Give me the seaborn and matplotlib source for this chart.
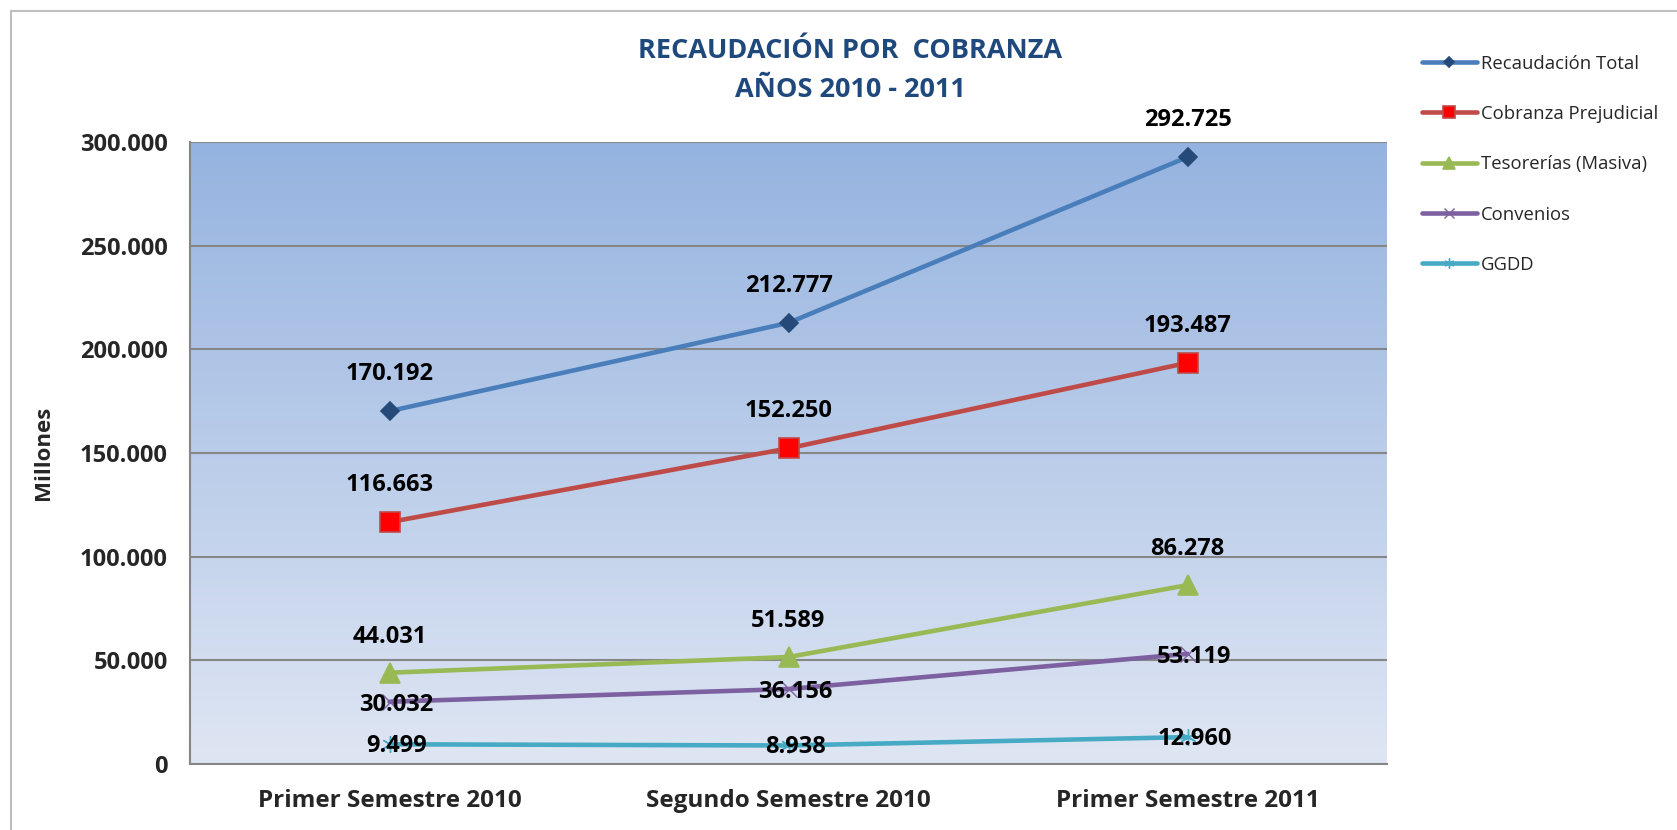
import numpy as np
import pandas as pd
import matplotlib
matplotlib.use('Agg')
import matplotlib.pyplot as plt
import seaborn as sns
from matplotlib.ticker import FuncFormatter, FixedLocator
from matplotlib.patches import Rectangle

# Datos (millones)
periodos = ['Primer Semestre 2010', 'Segundo Semestre 2010', 'Primer Semestre 2011']
series = ['Recaudación Total', 'Cobranza Prejudicial', 'Tesorerías (Masiva)', 'Convenios', 'GGDD']
recaudacion_total = [170192, 212777, 292725]
cobranza_prejudicial = [116663, 152250, 193487]
tesorerias = [44031, 51589, 86278]
convenios = [30032, 36156, 53119]
ggdd = [9499, 8938, 12960]
valores = [recaudacion_total, cobranza_prejudicial, tesorerias, convenios, ggdd]
y_ticks = [0, 50000, 100000, 150000, 200000, 250000, 300000]

# estilo por serie
colores = ['#4a7ebb', '#be4b48', '#98b954', '#7d60a0', '#46aac5']
marcadores = ['D', 's', '^', 'x', (6, 2, 0)]
tam_marca = [9, 14, 14, 12, 12]
cara_marca = ['#254a7a', '#ff0000', '#98b954', '#7d60a0', '#46aac5']
borde_marca = ['#254a7a', '#be4b48', '#98b954', '#7d60a0', '#46aac5']
# offset de etiqueta (px) respecto al punto
offset_etq = [(0, 37), (0, 37), (0, 36), (7, -3), (7, -2)]

sns.set_style('white')
plt.rcParams['font.family'] = ['Open Sans', 'DejaVu Sans']

fig = plt.figure(figsize=(16.77, 8.30), dpi=100)
ax = fig.add_axes([190 / 1677, 1 - 764 / 830, (1387 - 190) / 1677, (764 - 142) / 830])

# marco exterior del grafico
fig.patches.append(Rectangle((11 / 1677, -0.1), 1.2, 1 - 11 / 830 + 0.1, transform=fig.transFigure,
                             fill=False, edgecolor='#bfbfbf', linewidth=1.5, zorder=0))

# fondo con degradado
grad = np.linspace(0, 1, 256).reshape(-1, 1)
cmap = matplotlib.colors.LinearSegmentedColormap.from_list('fondo', ['#dfe6f3', '#95b3e0'])
ax.imshow(grad, extent=[0, 1, 0, 1], transform=ax.transAxes, cmap=cmap, origin='lower',
          aspect='auto', zorder=0)

for i, nombre in enumerate(series):
    df = pd.DataFrame({'periodo': periodos, 'valor': valores[i]})
    sns.lineplot(data=df, x='periodo', y='valor', ax=ax, color=colores[i], linewidth=3.3,
                 marker=marcadores[i], markersize=tam_marca[i], markerfacecolor=cara_marca[i],
                 markeredgecolor=borde_marca[i], markeredgewidth=1.2 if i < 3 else 1.0,
                 label=nombre, zorder=3)
    for j, v in enumerate(valores[i]):
        etq = f'{v:,}'.replace(',', '.')
        ax.annotate(etq, (j, v), xytext=offset_etq[i], textcoords='offset pixels',
                    ha='center', va='center', fontsize=17, fontweight='bold', color='black', zorder=5)

ax.set_xlim(-0.5, 2.5)
ax.set_ylim(0, 300000)
ax.yaxis.set_major_locator(FixedLocator(y_ticks))
ax.yaxis.set_major_formatter(FuncFormatter(lambda v, p: f'{int(v):,}'.replace(',', '.')))
ax.grid(axis='y', color='#868686', linewidth=1.5, zorder=1)
ax.set_axisbelow(True)

# ticks del eje x entre categorias
ax.set_xticks([0, 1, 2])
ax.set_xticklabels(periodos, fontsize=17.5, fontweight='bold')
ax.set_xticks([-0.5, 0.5, 1.5, 2.5], minor=True)
ax.tick_params(axis='x', which='major', length=0, pad=18)
ax.tick_params(axis='x', which='minor', length=8, width=1.5, color='#868686', direction='out')
ax.tick_params(axis='y', length=8, width=1.5, color='#868686', direction='out', labelsize=17, pad=8)
for t in ax.get_yticklabels():
    t.set_fontweight('bold')

for s in ['top', 'right']:
    ax.spines[s].set_visible(False)
for s in ['left', 'bottom']:
    ax.spines[s].set_color('#868686')
    ax.spines[s].set_linewidth(1.5)

ax.set_xlabel('')
ax.set_ylabel('Millones', fontsize=16, fontweight='bold')
ax.yaxis.set_label_coords((54 - 190) / 1197, 0.5)

fig.text(850 / 1677, 1 - 51 / 830, 'RECAUDACIÓN POR  COBRANZA', ha='center', va='center',
         fontsize=19.5, fontweight='bold', color='#1f497d')
fig.text(850 / 1677, 1 - 90 / 830, 'AÑOS 2010 - 2011', ha='center', va='center',
         fontsize=19.5, fontweight='bold', color='#1f497d')

ax.legend(loc='upper left', bbox_to_anchor=(1405 / 1677, 1 - 38 / 830), bbox_transform=fig.transFigure,
          frameon=False, fontsize=13.3, handlelength=3.0, handletextpad=0.2, labelspacing=1.75,
          markerscale=0.6)

fig.savefig('out.png', dpi=100)
